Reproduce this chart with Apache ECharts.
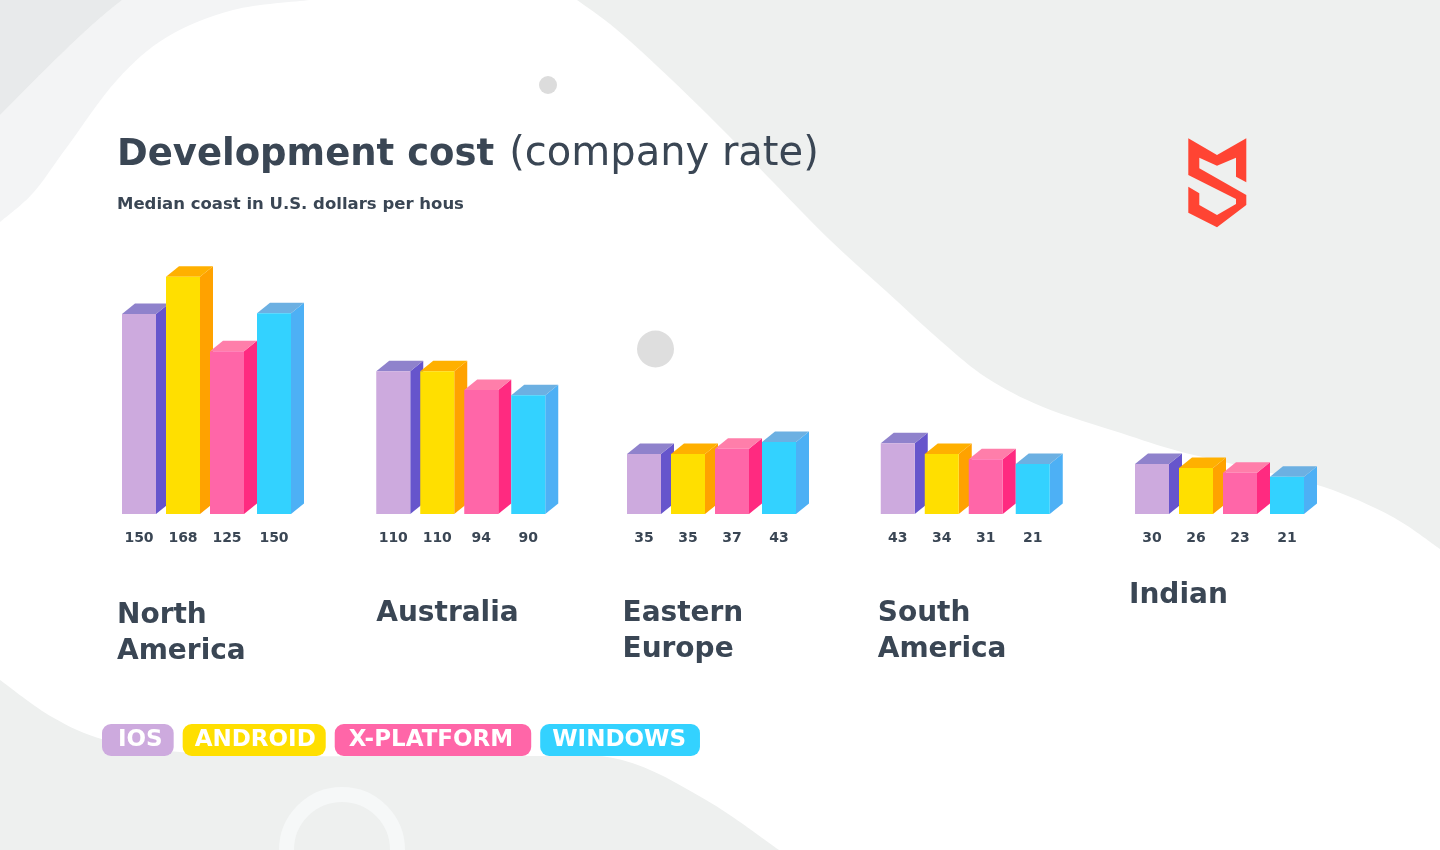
<!DOCTYPE html>
<html>
<head>
<meta charset="utf-8">
<title>Development cost (company rate)</title>
<script src="https://cdn.jsdelivr.net/npm/echarts@6/dist/echarts.min.js"></script>
<style>
    html, body { margin: 0; padding: 0; background: #fff; }
    #chart { width: 1440px; height: 850px; }
</style>
</head>
<body>
<div id="chart"></div>
<script>
const regions = ['North\nAmerica', 'Australia', 'Eastern\nEurope', 'South\nAmerica', 'Indian'];
const platforms = ['IOS', 'ANDROID', 'X-PLATFORM', 'WINDOWS'];

// numbers printed under the bars
const printedIos = [150, 110, 35, 43, 30];
const printedAndroid = [168, 110, 35, 34, 26];
const printedXPlatform = [125, 94, 37, 31, 23];
const printedWindows = [150, 90, 43, 21, 21];

// the bars in the picture are not to scale with the printed numbers,
// so these are the heights as drawn, read against the first bar (150)
const drawnIos = [150, 107, 45, 53, 37.5];
const drawnAndroid = [178, 107, 45, 45, 34.5];
const drawnXPlatform = [122, 93, 49, 41, 31];
const drawnWindows = [150.5, 89, 54, 37.5, 28];

const FONT = '"DejaVu Sans"';
const INK = '#3a4654';
const BAR_W = 34, DEPTH_X = 13, DEPTH_Y = 10.5;
const slotOffset = [0, 44, 88, 135];
const groupShift = [7, 8, 5.5, 6, 7];

const faces = [
    { front: '#cdaade', side: '#6655cc', top: '#8f82cc' },
    { front: '#ffdf00', side: '#ffa200', top: '#ffb000' },
    { front: '#ff66a8', side: '#ff2a80', top: '#ff7eaa' },
    { front: '#33d2ff', side: '#4db0f5', top: '#6cb0e2' }
];
const pillPadding = [[8, 11, 8, 16], [8, 10, 8, 12], [8, 18, 8, 14], [8, 14, 8, 12]];

function renderBar(slot) {
    return function (params, api) {
        const i = api.value(0);
        const top = api.coord([i, api.value(1)]);
        const base = api.coord([i, 0]);
        const x = top[0] + slotOffset[slot] + groupShift[i];
        const c = faces[slot];
        return {
            type: 'group',
            children: [
                { type: 'polygon', shape: { points: [[x + BAR_W, top[1]], [x + BAR_W + DEPTH_X, top[1] - DEPTH_Y], [x + BAR_W + DEPTH_X, base[1] - DEPTH_Y], [x + BAR_W, base[1]]] }, style: { fill: c.side } },
                { type: 'polygon', shape: { points: [[x, top[1]], [x + DEPTH_X, top[1] - DEPTH_Y], [x + BAR_W + DEPTH_X, top[1] - DEPTH_Y], [x + BAR_W, top[1]]] }, style: { fill: c.top } },
                { type: 'rect', shape: { x: x, y: top[1], width: BAR_W, height: base[1] - top[1] }, style: { fill: c.front } },
                { type: 'text', style: { x: x + BAR_W / 2, y: 538, text: String(api.value(2)), align: 'center', verticalAlign: 'middle', fill: INK, font: '700 14px ' + FONT } }
            ]
        };
    };
}

function seriesFor(slot, drawn, printed) {
    return {
        name: platforms[slot],
        type: 'custom',
        renderItem: renderBar(slot),
        encode: { x: 0, y: 1 },
        clip: false,
        data: regions.map((r, i) => [i, drawn[i], printed[i]])
    };
}

// catmull-rom through the traced edge points of the background
function smoothEdge(pts) {
    let d = '';
    for (let i = 0; i < pts.length - 1; i++) {
        const p0 = pts[i - 1] || pts[i], p1 = pts[i], p2 = pts[i + 1], p3 = pts[i + 2] || p2;
        d += ' C' + (p1[0] + (p2[0] - p0[0]) / 6) + ',' + (p1[1] + (p2[1] - p0[1]) / 6)
            + ' ' + (p2[0] - (p3[0] - p1[0]) / 6) + ',' + (p2[1] - (p3[1] - p1[1]) / 6)
            + ' ' + p2[0] + ',' + p2[1];
    }
    return d;
}

const edgeTopLeft = [[0, 222], [33, 193], [67, 147], [117, 80], [167, 37], [233, 10], [310, 0]];
const edgeRight = [[577, 0], [616, 29], [672, 80], [728, 135], [773, 182], [830, 240], [886, 291], [942, 342], [987, 378],
    [1043, 407], [1121, 433], [1178, 451], [1250, 468], [1324, 487], [1391, 516], [1440, 549]];
const edgeBottom = [[779, 850], [706, 800], [622, 760], [530, 756], [300, 756], [180, 752], [105, 740], [52, 717], [0, 680]];

// background shapes; the rect has to equal each path's bounding box so it is not rescaled
function blob(pathData, x, y, w, h, fill) {
    return { type: 'path', shape: { pathData: pathData, x: x, y: y, width: w, height: h, layout: 'cover' }, style: { fill: fill } };
}

function renderBackdrop() {
    return {
        type: 'group',
        children: [
            blob('M0,0 L122,0 C83,30 43,72 0,115 Z', 0, 0, 122, 115, '#e8eaeb'),
            blob('M122,0 L310,0 L0,225 L0,115 C43,72 83,30 122,0 Z', 0, 0, 310, 225, '#f3f4f5'),
            blob('M0,222' + smoothEdge(edgeTopLeft) + ' L577,0' + smoothEdge(edgeRight) + ' L1440,850 L779,850' + smoothEdge(edgeBottom) + ' Z', 0, 0, 1440, 850, '#fff'),
            { type: 'circle', shape: { cx: 548, cy: 85, r: 9 }, style: { fill: '#dcdcdc' } },
            { type: 'circle', shape: { cx: 655.5, cy: 349, r: 18.5 }, style: { fill: '#dedede' } },
            { type: 'circle', shape: { cx: 342, cy: 850, r: 55.5 }, style: { fill: 'none', stroke: '#f6f8f8', lineWidth: 15 } },
            {
                type: 'polygon',
                shape: {
                    points: [[1188.3, 138.3], [1217, 155], [1246.3, 138.3], [1246.3, 182.3], [1236, 176.7], [1236, 157.7], [1217, 165.7], [1199.3, 157.7], [1199.3, 168.3],
                        [1246.3, 195], [1246.3, 205], [1217, 227.3], [1188.3, 212.7], [1188.3, 186.7], [1199.3, 193.3], [1199.3, 205], [1217, 215], [1236, 204], [1236, 199], [1188.3, 175]]
                },
                style: { fill: '#ff4433' }
            }
        ]
    };
}

const nameBase = { align: 'left', verticalAlign: 'top' };

const chart = echarts.init(document.getElementById('chart'));
chart.setOption({
    backgroundColor: '#eef0ef',
    animation: false,
    title: {
        left: 117,
        top: 135,
        padding: 0,
        itemGap: 21,
        text: '{b|Development cost}{n|(company rate)}',
        textStyle: {
            rich: {
                b: { fontFamily: FONT, fontWeight: 700, fontSize: 37, color: INK },
                n: { fontFamily: FONT, fontWeight: 400, fontSize: 40, color: INK, padding: [0, 0, 0, 15] }
            }
        },
        subtext: 'Median coast in U.S. dollars per hous',
        subtextStyle: { fontFamily: FONT, fontWeight: 700, fontSize: 16.5, color: INK }
    },
    legend: {
        left: 92,
        top: 719,
        itemWidth: 0,
        itemHeight: 0,
        itemGap: 4,
        icon: 'rect',
        selectedMode: false,
        data: platforms.map((p, i) => ({
            name: p,
            textStyle: {
                color: '#fff',
                fontFamily: FONT,
                fontWeight: 700,
                fontSize: 23,
                lineHeight: 16,
                backgroundColor: faces[i].front,
                borderRadius: 9,
                padding: pillPadding[i]
            }
        }))
    },
    grid: { left: 115, width: 1013, top: 214, height: 300 },
    xAxis: {
        type: 'category',
        boundaryGap: false,
        data: [
            { value: regions[0], textStyle: { ...nameBase, padding: [2, 0, 0, 2] } },
            { value: regions[1], textStyle: { ...nameBase, padding: [0, 0, 0, 8] } },
            { value: regions[2], textStyle: { ...nameBase, padding: [0, 0, 0, 1] } },
            { value: regions[3], textStyle: { ...nameBase, padding: [0, 0, 0, 3] } },
            { value: regions[4], textStyle: { align: 'left', verticalAlign: 'middle', padding: [0, 0, 14, 1] } }
        ],
        axisLine: { show: false },
        axisTick: { show: false },
        axisLabel: {
            interval: 0,
            margin: 82,
            lineHeight: 36,
            fontFamily: FONT,
            fontWeight: 700,
            fontSize: 28,
            color: INK
        }
    },
    yAxis: { type: 'value', min: 0, max: 225, show: false },
    series: [
        { type: 'custom', coordinateSystem: 'none', silent: true, z: 0, renderItem: renderBackdrop, data: [0] },
        seriesFor(0, drawnIos, printedIos),
        seriesFor(1, drawnAndroid, printedAndroid),
        seriesFor(2, drawnXPlatform, printedXPlatform),
        seriesFor(3, drawnWindows, printedWindows)
    ]
});
</script>
</body>
</html>
